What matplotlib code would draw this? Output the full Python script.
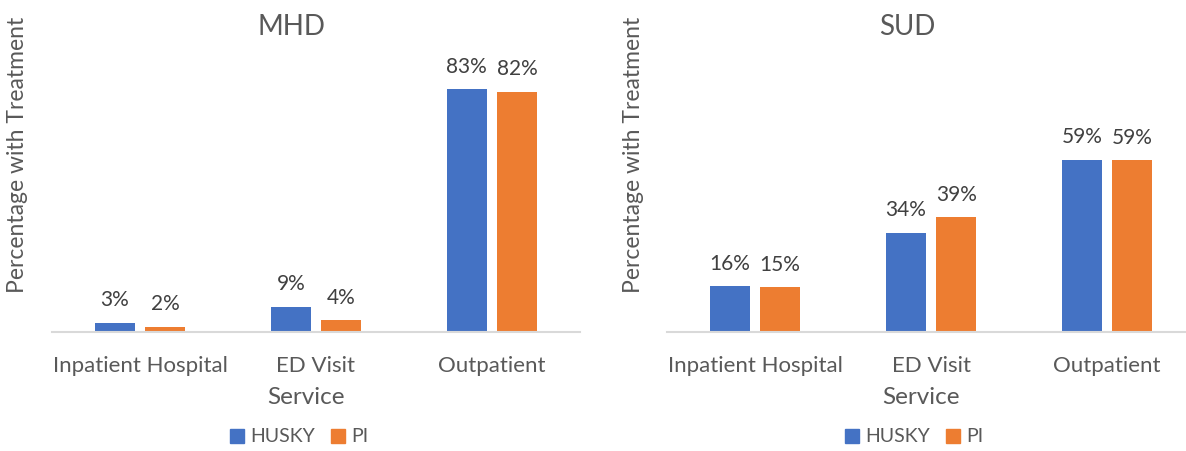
import matplotlib
matplotlib.use("Agg")
import matplotlib.pyplot as plt
from matplotlib.patches import Patch

plt.rcParams['font.family'] = ['Lato', 'DejaVu Sans']

categories = ["Inpatient Hospital", "ED Visit", "Outpatient"]
series_names = ["HUSKY", "PI"]
mhd_husky = [0.031, 0.086, 0.830]
mhd_pi = [0.018, 0.041, 0.823]
sud_husky = [0.156, 0.340, 0.590]
sud_pi = [0.153, 0.392, 0.587]
titles = ["MHD", "SUD"]

BLUE = "#4472C4"
ORANGE = "#ED7D31"
TXT = "#595959"
LBL = "#404040"

W, H = 1186, 451
fig = plt.figure(figsize=(W / 100, H / 100), dpi=100)

def fx(px):
    return px / W

def fy(py):
    return 1 - py / H

panels = [
    dict(left=52, title=titles[0], a=mhd_husky, b=mhd_pi, ylab_x=18, title_x=291, xlab_x=306, leg_x=299),
    dict(left=667, title=titles[1], a=sud_husky, b=sud_pi, ylab_x=634, title_x=907, xlab_x=921, leg_x=914),
]

axw = 528
top_px, base_px = 69, 332
bw = 0.227
off = 0.143
for p in panels:
    ax = fig.add_axes([fx(p['left']), fy(base_px), fx(axw), (base_px - top_px) / H])
    x = list(range(len(categories)))
    b1 = ax.bar([i - off for i in x], p['a'], width=bw, color=BLUE)
    b2 = ax.bar([i + off for i in x], p['b'], width=bw, color=ORANGE)
    for bars, vals in ((b1, p['a']), (b2, p['b'])):
        for r, v in zip(bars, vals):
            ax.annotate(f"{round(v * 100):.0f}%", (r.get_x() + r.get_width() / 2, v),
                        xytext=(0, 9), textcoords='offset points', ha='center', va='bottom',
                        fontsize=15, color=LBL)
    ax.set_xlim(-0.5, 2.5)
    ax.set_ylim(0, 0.9)
    ax.set_yticks([])
    ax.set_xticks(x)
    ax.set_xticklabels(categories, fontsize=16, color=TXT)
    ax.tick_params(axis='x', length=0, pad=17)
    for s in ['top', 'right', 'left']:
        ax.spines[s].set_visible(False)
    ax.spines['bottom'].set_color('#D9D9D9')
    ax.spines['bottom'].set_linewidth(1.5)
    ax.set_facecolor('none')
    fig.text(fx(p['title_x']), fy(27), p['title'], ha='center', va='center', fontsize=20, color=TXT)
    fig.text(fx(p['xlab_x']), fy(398), "Service", ha='center', va='center', fontsize=17.5, color=TXT)
    fig.text(fx(p['ylab_x']), fy(155), "Percentage with Treatment", ha='center', va='center',
             rotation=90, fontsize=16.5, color=TXT)
    handles = [Patch(color=BLUE), Patch(color=ORANGE)]
    fig.legend(handles, series_names, loc='center', bbox_to_anchor=(fx(p['leg_x']), fy(437)),
               ncol=2, frameon=False, fontsize=14, labelcolor=TXT, handlelength=0.75,
               handleheight=0.75, handletextpad=0.3, columnspacing=0.8)

fig.savefig("out.png", dpi=100)
